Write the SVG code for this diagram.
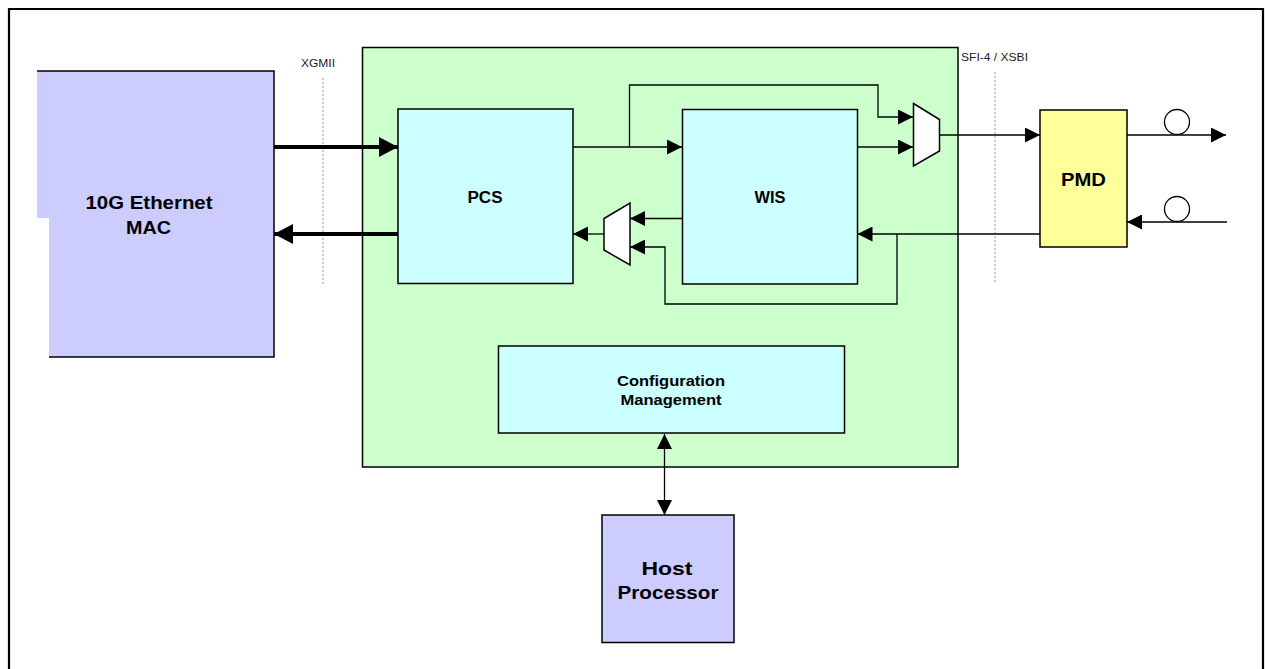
<svg xmlns="http://www.w3.org/2000/svg" width="1265" height="669" viewBox="0 0 1265 669">
<style>
.box{stroke:#000;stroke-width:1.5}
.t{font-family:"Liberation Sans",Arial,sans-serif;font-weight:bold;text-anchor:middle;fill:#000}
.lbl{font-family:"Liberation Sans",Arial,sans-serif;font-size:11px;fill:#222}
.w{fill:none;stroke:#000;stroke-width:1.3}
.k{fill:none;stroke:#000;stroke-width:4}
.d{fill:none;stroke:#999;stroke-width:1;stroke-dasharray:2,2}
</style>
<defs>
<marker id="a" markerUnits="userSpaceOnUse" markerWidth="15" markerHeight="15" refX="15" refY="7.5" orient="auto-start-reverse"><path d="M0,0 L15,7.5 L0,15 z" fill="#000"/></marker>
<marker id="b" markerUnits="userSpaceOnUse" markerWidth="20" markerHeight="20" refX="19" refY="10" orient="auto"><path d="M0,0 L19,10 L0,20 z" fill="#000"/></marker>
</defs>
<rect x="0" y="0" width="1265" height="669" fill="#fff"/>
<path d="M9,675 V9 H1263 V675" fill="none" stroke="#000" stroke-width="2.2"/>
<g id="xgmii"><text class="lbl" x="301" y="67" textLength="34" lengthAdjust="spacingAndGlyphs">XGMII</text><line class="d" x1="323" y1="78" x2="323" y2="284"/></g>
<g id="sfi"><text class="lbl" x="961" y="61" textLength="67" lengthAdjust="spacingAndGlyphs">SFI-4 / XSBI</text><line class="d" x1="995" y1="72" x2="995" y2="284"/></g>
<g id="mac">
<polygon points="37,71 274,71 274,357 49,357 49,218 37,218" fill="#CCCCFF"/>
<path d="M37,71 H274 V357 H49" fill="none" stroke="#000" stroke-width="1.5"/>
<text class="t" font-size="19" x="149" y="209" textLength="127" lengthAdjust="spacingAndGlyphs">10G Ethernet</text>
<text class="t" font-size="19" x="148.5" y="234" textLength="45" lengthAdjust="spacingAndGlyphs">MAC</text>
</g>
<g id="phy"><rect class="box" x="362.5" y="47.5" width="595.5" height="419.5" fill="#CCFFCC"/></g>
<g id="pcs"><rect class="box" x="398" y="109" width="175" height="174.5" fill="#CCFFFF"/>
<text class="t" font-size="16" x="485" y="203" textLength="35" lengthAdjust="spacingAndGlyphs">PCS</text></g>
<g id="wis"><rect class="box" x="682.5" y="109.5" width="175" height="174.5" fill="#CCFFFF"/>
<text class="t" font-size="16" x="770" y="203" textLength="31" lengthAdjust="spacingAndGlyphs">WIS</text></g>
<g id="config"><rect class="box" x="498.5" y="346" width="346" height="87" fill="#CCFFFF"/>
<text class="t" font-size="14" x="671" y="385.5" textLength="108" lengthAdjust="spacingAndGlyphs">Configuration</text>
<text class="t" font-size="14" x="671" y="405" textLength="101" lengthAdjust="spacingAndGlyphs">Management</text></g>
<g id="host"><rect class="box" x="602" y="515" width="132" height="127.5" fill="#CCCCFF"/>
<text class="t" font-size="18" x="667" y="575" textLength="51" lengthAdjust="spacingAndGlyphs">Host</text>
<text class="t" font-size="18" x="668" y="599" textLength="101" lengthAdjust="spacingAndGlyphs">Processor</text></g>
<g id="pmd"><rect class="box" x="1040" y="110" width="87" height="137" fill="#FFFF99"/>
<text class="t" font-size="18.5" x="1083.5" y="186" textLength="45" lengthAdjust="spacingAndGlyphs">PMD</text></g>
<g id="muxtx"><polygon class="box" points="913.5,103.5 939.5,119.5 939.5,151 913.5,166" fill="#fff" stroke-width="1.3"/></g>
<g id="muxrx"><polygon class="box" points="630,203 630,265 604,250 604,218.5" fill="#fff" stroke-width="1.3"/></g>
<g id="fiber">
<circle cx="1177" cy="122" r="12.5" fill="#fff" stroke="#000" stroke-width="1.3"/>
<circle cx="1177" cy="209" r="12.5" fill="#fff" stroke="#000" stroke-width="1.3"/>
</g>
<g id="connectors">
<path class="k" d="M274,147 H398" marker-end="url(#b)"/>
<path class="k" d="M398,234 H274" marker-end="url(#b)"/>
<path class="w" d="M573,147 H682" marker-end="url(#a)"/>
<path class="w" d="M629.5,147 V85 H878 V117 H913" marker-end="url(#a)"/>
<path class="w" d="M857,147 H913" marker-end="url(#a)"/>
<path class="w" d="M939.5,135 H1040" marker-end="url(#a)"/>
<path class="w" d="M1127,135 H1226" marker-end="url(#a)"/>
<path class="w" d="M1227,222 H1127" marker-end="url(#a)"/>
<path class="w" d="M1040,234 H857.5" marker-end="url(#a)"/>
<path class="w" d="M897,234 V304 H665 V247 H630" marker-end="url(#a)"/>
<path class="w" d="M682.5,218.5 H630" marker-end="url(#a)"/>
<path class="w" d="M604,234 H573" marker-end="url(#a)"/>
<path class="w" d="M664.5,434 V515" marker-start="url(#a)" marker-end="url(#a)"/>
</g>
</svg>
